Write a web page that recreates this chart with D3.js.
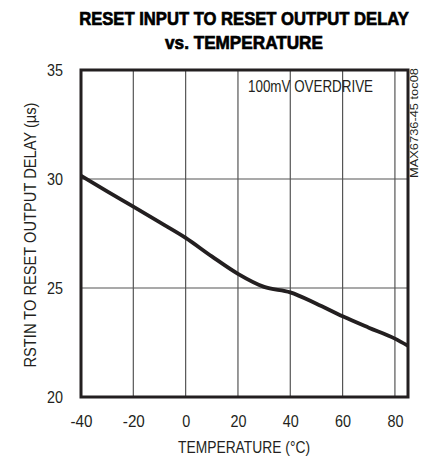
<!DOCTYPE html>
<html><head><meta charset="utf-8">
<script src="https://cdn.jsdelivr.net/npm/d3@7"></script>
<style>body{margin:0;background:#fff}svg{display:block}</style>
</head><body>
<script>
const temps = [-40,-30,-20,-10,0,10,20,30,40,50,60,70,80,85];
const delay = [30.15,29.43,28.73,28.02,27.3,26.45,25.65,25.05,24.8,24.28,23.7,23.18,22.68,22.35];
const xTicks = [-40,-20,0,20,40,60,80];
const yTicks = [20,25,30,35];
const titleLines = ["RESET INPUT TO RESET OUTPUT DELAY","vs. TEMPERATURE"];
const xLabel = "TEMPERATURE (°C)";
const yLabel = "RSTIN TO RESET OUTPUT DELAY (µs)";
const note = "100mV OVERDRIVE";
const tocId = "MAX6736-45 toc08";

const W=422,H=459;
const m={l:81,r:408,t:70,b:397};
const font="'Liberation Sans Narrow','Arial Narrow','Liberation Sans',sans-serif";
const ink="#231f20";
const svg=d3.select("body").append("svg").attr("width",W).attr("height",H);
const x=d3.scaleLinear().domain([-40,85]).range([m.l,m.r]);
const y=d3.scaleLinear().domain([20,35]).range([m.b,m.t]);

// title: horizontally compressed via transform so the real bbox stays within the page
function titleLine(txt, cy, width){
  const g=svg.append("g");
  const t=g.append("text").attr("text-anchor","middle")
    .attr("font-family","'Liberation Sans',Arial,sans-serif").attr("font-weight","bold").attr("font-size",19)
    .attr("fill","#000").attr("stroke","#000").attr("stroke-width",0.7).text(txt);
  const len=t.node().getComputedTextLength();
  g.attr("transform",`translate(244,${cy}) scale(${width/len},1)`);
}
titleLine(titleLines[0],24.5,330);
titleLine(titleLines[1],48.5,158);

// grid
svg.append("g").selectAll("line").data(xTicks.filter(d=>d>-40)).join("line")
  .attr("x1",d=>x(d)).attr("x2",d=>x(d)).attr("y1",m.t).attr("y2",m.b)
  .attr("stroke","#555").attr("stroke-width",1.2);
svg.append("g").selectAll("line").data(yTicks.filter(d=>d>20&&d<35)).join("line")
  .attr("x1",m.l).attr("x2",m.r).attr("y1",d=>y(d)).attr("y2",d=>y(d))
  .attr("stroke","#555").attr("stroke-width",1.2);

// curve
const line=d3.line().x((d,i)=>x(temps[i])).y(d=>y(d)).curve(d3.curveMonotoneX);
svg.append("path").attr("d",line(delay)).attr("fill","none").attr("stroke",ink).attr("stroke-width",3.8);

// frame
svg.append("rect").attr("x",m.l).attr("y",m.t).attr("width",m.r-m.l).attr("height",m.b-m.t)
  .attr("fill","none").attr("stroke",ink).attr("stroke-width",3);

const tl = s => String(s).replace("-","").length*8 + (String(s).startsWith("-")?6:0);

// axes labels
const xa=svg.append("g").attr("transform",`translate(0,${m.b+30})`)
  .call(d3.axisBottom(x).tickValues(xTicks).tickSize(0).tickPadding(0).tickFormat(d=>d));
xa.select(".domain").remove();
xa.selectAll("text").attr("font-family",font).attr("font-size",16.5).attr("fill",ink).attr("dy",0)
  .attr("textLength",d=>tl(d)).attr("lengthAdjust","spacingAndGlyphs");
const ya=svg.append("g").attr("transform",`translate(${m.l-18},0)`)
  .call(d3.axisLeft(y).tickValues(yTicks).tickSize(0).tickPadding(0));
ya.select(".domain").remove();
ya.selectAll("text").attr("font-family",font).attr("font-size",16.5).attr("fill",ink)
  .attr("textLength",d=>tl(d)).attr("lengthAdjust","spacingAndGlyphs");

svg.append("text").attr("x",244).attr("y",453).attr("text-anchor","middle")
  .attr("font-family",font).attr("font-size",16).attr("fill",ink)
  .attr("textLength",132).attr("lengthAdjust","spacingAndGlyphs").text(xLabel);
svg.append("text").attr("transform","translate(36,235) rotate(-90)").attr("text-anchor","middle")
  .attr("font-family",font).attr("font-size",16).attr("fill",ink)
  .attr("textLength",265).attr("lengthAdjust","spacingAndGlyphs").text(yLabel);

svg.append("text").attr("x",248).attr("y",92)
  .attr("font-family",font).attr("font-size",16).attr("fill",ink)
  .attr("textLength",125).attr("lengthAdjust","spacingAndGlyphs").text(note);
svg.append("text").attr("transform","translate(418,123) rotate(-90)").attr("text-anchor","middle")
  .attr("font-family",font).attr("font-size",10).attr("fill",ink)
  .attr("textLength",110).attr("lengthAdjust","spacingAndGlyphs").text(tocId);
</script>
</body></html>
